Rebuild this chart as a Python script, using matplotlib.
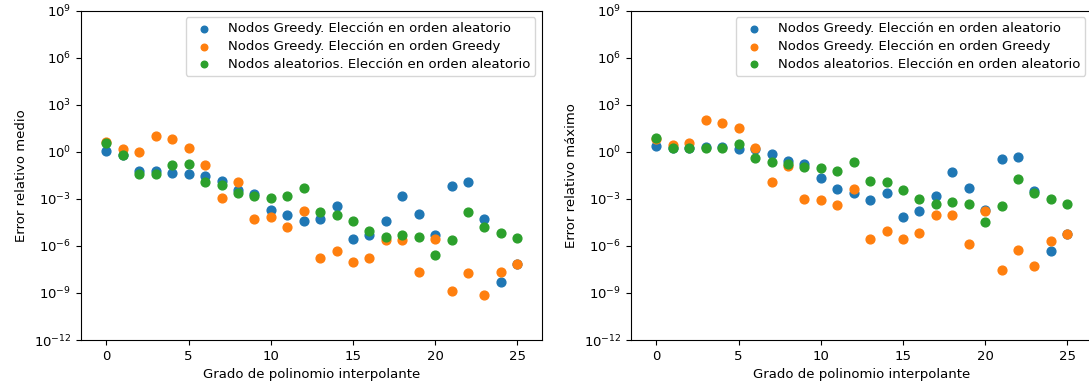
import numpy as np
import matplotlib
matplotlib.use("Agg")
import matplotlib.pyplot as plt
from matplotlib.ticker import NullLocator

plt.rcParams['font.size'] = 9.5

grados = list(range(26))
labels = ["Nodos Greedy. Elección en orden aleatorio",
          "Nodos Greedy. Elección en orden Greedy",
          "Nodos aleatorios. Elección en orden aleatorio"]

# error relativo medio
medio_greedy_aleat = [1.1, 0.59, 0.059, 0.059, 0.046, 0.040, 0.028, 0.0135, 3.5e-3, 2.0e-3,
                      2.0e-4, 9.5e-5, 4.0e-5, 5.5e-5, 3.4e-4, 2.7e-6, 5.0e-6, 4.0e-5, 1.4e-3, 1.15e-4,
                      5.0e-6, 6.8e-3, 1.1e-2, 5.5e-5, 5.2e-9, 6.5e-8]
medio_greedy_greedy = [4.4, 1.4, 1.0, 10, 6.2, 1.8, 0.14, 1.15e-3, 1.2e-2, 5.5e-5,
                       6.5e-5, 1.6e-5, 1.6e-4, 1.8e-7, 4.6e-7, 9.1e-8, 1.8e-7, 2.2e-6, 2.2e-6, 2.2e-8,
                       2.8e-6, 1.3e-9, 1.9e-8, 7.4e-10, 2.2e-8, 6.5e-8]
medio_aleat_aleat = [3.4, 0.59, 0.040, 0.040, 0.135, 0.16, 0.0115, 7.1e-3, 2.3e-3, 1.4e-3,
                     1.15e-3, 1.4e-3, 4.8e-3, 1.35e-4, 9.5e-5, 4.0e-5, 9.5e-6, 3.7e-6, 4.6e-6, 3.7e-6,
                     2.7e-7, 2.2e-6, 1.35e-4, 1.6e-5, 6.5e-6, 3.2e-6]

# error relativo maximo
max_greedy_aleat = [2.3, 1.8, 1.8, 2.0, 2.0, 1.6, 1.4, 0.68, 0.25, 0.17,
                    0.022, 4.0e-3, 2.2e-3, 7.9e-4, 2.2e-3, 7.1e-5, 1.6e-4, 1.4e-3, 0.048, 4.7e-3,
                    2.0e-4, 0.32, 0.48, 3.3e-3, 4.6e-7, 5.5e-6]
max_greedy_greedy = [6.3, 2.5, 3.5, 100, 68, 34, 1.7, 0.0115, 0.13, 1.0e-3,
                     8.1e-4, 4.0e-4, 4.2e-3, 2.7e-6, 9.5e-6, 2.7e-6, 6.8e-6, 9.5e-5, 9.5e-5, 1.35e-6,
                     1.6e-4, 2.7e-8, 5.5e-7, 5.2e-8, 1.9e-6, 5.5e-6]
max_aleat_aleat = [7.1, 1.7, 1.7, 1.7, 1.7, 3.0, 0.42, 0.23, 0.16, 0.11,
                   0.095, 0.055, 0.23, 0.0135, 0.011, 3.7e-3, 1.0e-3, 4.8e-4, 5.9e-4, 4.8e-4,
                   3.2e-5, 3.4e-4, 0.019, 2.3e-3, 1.0e-3, 4.8e-4]

yticks = [1e-12, 1e-9, 1e-6, 1e-3, 1e0, 1e3, 1e6, 1e9]

fig = plt.figure(figsize=(10.89, 3.88), dpi=100)
W, H = 1089, 388
ax1 = fig.add_axes([81 / W, 48 / H, 461 / W, 329.5 / H])
ax2 = fig.add_axes([631 / W, 48 / H, 461 / W, 329.5 / H])

for ax, series, ylabel in [(ax1, [medio_greedy_aleat, medio_greedy_greedy, medio_aleat_aleat], "Error relativo medio"),
                           (ax2, [max_greedy_aleat, max_greedy_greedy, max_aleat_aleat], "Error relativo máximo")]:
    for i, s in enumerate(series):
        ax.scatter(grados, s, s=40, color="C%d" % i, label=labels[i])
    ax.set_yscale("log")
    ax.set_ylim(1e-12, 1e9)
    ax.set_yticks(yticks)
    ax.yaxis.set_minor_locator(NullLocator())
    ax.set_xlim(-1.55, 26.5)
    ax.set_xticks([0, 5, 10, 15, 20, 25])
    ax.set_xlabel("Grado de polinomio interpolante")
    ax.set_ylabel(ylabel)
    ax.legend(loc="upper right", markerscale=0.75, labelspacing=0.35)

fig.savefig("out.png", dpi=100)
